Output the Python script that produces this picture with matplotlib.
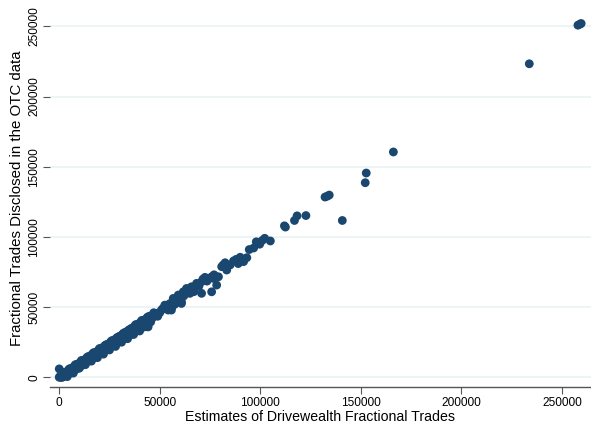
import matplotlib
matplotlib.use("Agg")
import matplotlib.pyplot as plt

plt.rcParams['font.family'] = ['Liberation Sans', 'DejaVu Sans']

# estimates of drivewealth fractional trades (x) vs OTC disclosed (y)
est_low = [0, 0, 300, 800, 1200, 1500, 2000, 2500, 3000, 3200, 3800, 4000, 4500, 5000,
           5300, 5800, 6200, 6500, 7000, 7300, 7800, 8200, 8600, 9000, 9400, 9800,
           2000, 5000, 8000, 4000, 7000]
otc_low = [6000, 0, 500, 200, 900, 0, 1500, 800, 2500, 1200, 3000, 1800, 3600, 2600,
           4200, 3500, 5000, 4000, 5800, 4800, 6500, 5600, 7400, 6300, 8200, 7200,
           3500, 6000, 9000, 500, 3000]

est_mid = [10200, 10600, 11000, 11400, 11800, 12200, 12600, 13000, 13400, 13800, 14200,
           14600, 15000, 15400, 15800, 16200, 16600, 17000, 17400, 17800, 18200, 18600,
           19000, 19400, 19800, 20200, 20600, 21000, 21500, 22000, 22500, 23000, 23500,
           24000, 24500, 25000, 25500, 26000, 26500, 27000, 27500, 28000, 28500, 29000,
           29500, 30000,
           11000, 14000, 17000, 20000, 23000, 26000, 29000,
           10000, 13000, 16000, 19000, 22000, 25000, 28000]
otc_mid = [9000, 8000, 9800, 8700, 10500, 9600, 11300, 10400, 12000, 11100, 12900,
           11900, 13700, 12700, 14500, 13400, 15200, 14200, 16000, 15000, 16800, 15800,
           17500, 16600, 18300, 17400, 19100, 18200, 20000, 19000, 21000, 19900, 21800,
           20700, 22700, 21600, 23500, 22400, 24400, 23300, 25200, 24100, 26100, 25000,
           27000, 25900,
           12000, 14500, 17500, 20500, 23000, 26000, 28500,
           6500, 9000, 11500, 14000, 16500, 19500, 22000]

# extra points that make the dense band solid
est_fill = [1000, 2500, 4000, 5500, 7000, 8500, 10000, 11500, 13000, 14500, 16000, 17500,
            19000, 20500, 22000, 23500, 25000, 26500, 28000, 29500, 31000, 32500, 34000,
            35500, 37000, 38500, 40000, 41500, 43000, 44500,
            1500, 3000, 4500, 6000, 7500, 9000, 10500, 12000, 13500, 15000, 16500, 18000,
            19500, 21000, 22500, 24000, 25500, 27000, 28500, 30000, 31500, 33000, 34500,
            36000, 37500, 39000, 40500, 42000, 43500, 45000]
otc_fill = [0, 1000, 2200, 3500, 4800, 6200, 7600, 9000, 10300, 11700, 13000, 14400,
            15700, 17000, 18300, 19700, 21000, 22300, 23600, 25000, 26300, 27600, 29000,
            30300, 31600, 33000, 34300, 35600, 37000, 38300,
            2200, 3600, 5100, 6500, 7900, 9400, 10800, 12200, 13600, 15100, 16500, 17900,
            19300, 20800, 22200, 23600, 25000, 26500, 27900, 29300, 30700, 32200, 33600,
            35000, 36400, 37900, 39300, 40700, 42100, 43600]

est_high = [30500, 31000, 31500, 32000, 32500, 33000, 33500, 34000, 34500, 35000, 35500,
            36000, 36500, 37000, 37500, 38000, 38500, 39000, 39500, 40000, 40500, 41000,
            41500, 42000, 42500, 43000, 44000, 44200, 45000, 45500, 46500, 47000, 48300,
            49000, 50800, 52500, 54200, 55800, 56700, 57500, 59200, 60800, 60800, 61700,
            63300, 65000, 65800, 68300, 70800, 70800, 72500, 75800, 75800, 78300, 79200,
            80800, 82500, 83300, 85000, 86700, 90000, 91700, 93300, 96700, 99700, 102200,
            105000, 112000, 112500, 117000, 118300, 122700, 132200, 133300, 134300, 140800,
            152200, 152700, 166200, 233800, 258000, 259000, 259600,
            32000, 35000, 38000, 41000, 44000, 47000, 31000, 34000, 37000, 40000, 43000,
            50000, 51500, 53000, 55000, 56000, 58000, 62000, 64000, 66500, 67000, 69500,
            71500, 73500, 76500, 77000, 81500, 84000, 88000, 89000, 94500, 98000, 101000]
otc_high = [27900, 26700, 28800, 27600, 29700, 28500, 30600, 29400, 31600, 30300, 32500,
            31200, 33400, 32100, 34300, 33000, 35300, 34000, 36200, 35000, 37200, 36000,
            38200, 37000, 39200, 38000, 40200, 35900, 41200, 39500, 42500, 44000, 45500,
            43500, 47900, 51400, 47900, 47900, 56200, 52000, 58600, 53800, 52600, 60900,
            63300, 59800, 64500, 66900, 68100, 59800, 71200, 71600, 60900, 65700, 71600,
            78800, 81600, 76400, 80000, 82900, 85500, 82400, 85200, 92100, 94800, 99000,
            97100, 107900, 107000, 111700, 115000, 115200, 128400, 129000, 129800, 111700,
            138600, 145500, 160500, 223300, 250800, 251500, 252000,
            31500, 34000, 37500, 40500, 43000, 46000, 25000, 27500, 30500, 33000, 36000,
            46000, 49000, 50000, 52500, 50000, 55000, 58000, 61500, 63000, 61000, 65000,
            70000, 68500, 70500, 73000, 80000, 79500, 84000, 81000, 91000, 96500, 97500]

x = est_low + est_mid + est_fill + est_high
y = otc_low + otc_mid + otc_fill + otc_high

xticks = [0, 50000, 100000, 150000, 200000, 250000]
yticks = [0, 50000, 100000, 150000, 200000, 250000]

fig = plt.figure(figsize=(5.91, 4.28), dpi=100)
ax = fig.add_axes([0.0846, 0.0958, 0.9154, 0.8808])

ax.scatter(x, y, s=40, color='#1a476f', edgecolors='none', zorder=3)

ax.set_xlim(-4600, 264500)
ax.set_ylim(-6900, 261600)
ax.set_xticks(xticks)
ax.set_yticks(yticks)
ax.set_xticklabels([str(t) for t in xticks], fontsize=8.6)
ax.set_yticklabels([str(t) for t in yticks], fontsize=8.6, rotation=90, va='center')

ax.grid(axis='y', color='#eaf2f3', linewidth=1.2, zorder=0)
ax.set_axisbelow(True)
for side in ['left', 'top', 'right']:
    ax.spines[side].set_visible(False)
ax.spines['bottom'].set_color('#555555')
ax.spines['bottom'].set_linewidth(1.0)
ax.tick_params(axis='both', colors='#555555', labelcolor='black', length=5, width=0.8, pad=2)

ax.set_xlabel('Estimates of Drivewealth Fractional Trades', fontsize=10.2, labelpad=1)
ax.set_ylabel('Fractional Trades Disclosed in the OTC data', fontsize=10.8, labelpad=3)

fig.savefig('out.png', dpi=100)
